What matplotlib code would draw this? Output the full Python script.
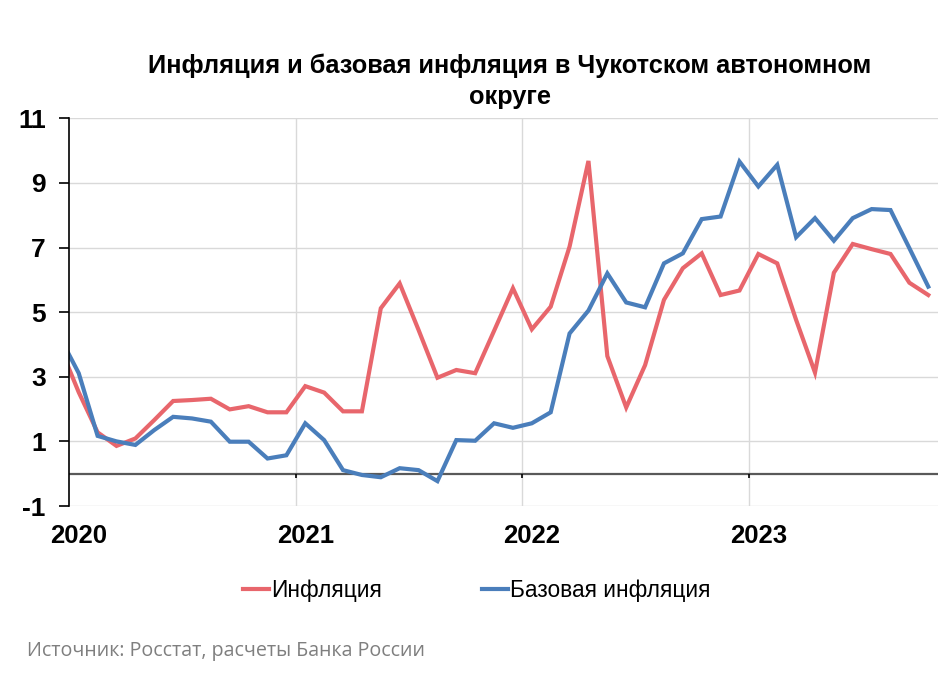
import numpy as np
import pandas as pd
import matplotlib
matplotlib.use("Agg")
import matplotlib.pyplot as plt

# monthly values, Dec 2019 .. Oct 2023 (Dec 2019 only feeds the clipped left edge)
start_month = "2019-12-01"
inflation = [
    3.94,
    2.52, 1.28, 0.86, 1.09, 1.66, 2.25, 2.28, 2.32, 1.99, 2.09, 1.90, 1.90,
    2.71, 2.51, 1.93, 1.93, 5.12, 5.89, 4.45, 2.97, 3.21, 3.11, 4.42, 5.74,
    4.47, 5.17, 7.03, 9.68, 3.64, 2.05, 3.36, 5.38, 6.36, 6.82, 5.53, 5.67,
    6.80, 6.51, 4.76, 3.13, 6.22, 7.11, 6.95, 6.80, 5.91, 5.53,
]
core_inflation = [
    4.23,
    3.11, 1.17, 1.00, 0.89, 1.35, 1.76, 1.71, 1.61, 0.99, 0.99, 0.47, 0.57,
    1.56, 1.04, 0.11, -0.04, -0.11, 0.17, 0.11, -0.23, 1.04, 1.02, 1.56, 1.42,
    1.56, 1.90, 4.34, 5.05, 6.20, 5.30, 5.15, 6.51, 6.82, 7.88, 7.96, 9.66,
    8.89, 9.56, 7.32, 7.91, 7.21, 7.91, 8.19, 8.16, 6.98, 5.79,
]
labels = ["Инфляция", "Базовая инфляция"]
years = ["2020", "2021", "2022", "2023"]
y_ticks = [-1, 1, 3, 5, 7, 9, 11]

dates = pd.date_range(start_month, periods=len(inflation), freq="MS")
# month index, Jan 2020 = 0
x = (dates.year - 2020) * 12 + (dates.month - 1)

red = "#E8666C"
blue = "#4A7EBB"

fig = plt.figure(figsize=(9.5, 6.75), dpi=100)
ax = fig.add_axes([69.3 / 950, 1 - 506 / 675, 868.4 / 950, 387.7 / 675])

ax.plot(x, inflation, color=red, lw=3, label=labels[0], solid_joinstyle="miter")
ax.plot(x, core_inflation, color=blue, lw=3, label=labels[1], solid_joinstyle="miter")

ax.set_xlim(-0.5, x[-1] + 0.5)
ax.set_ylim(-1, 11)

# horizontal grid
ax.set_yticks(y_ticks)
ax.set_yticklabels([str(v) for v in y_ticks])
ax.grid(axis="y", color="#D9D9D9", lw=1)
ax.set_axisbelow(True)

# year boundaries between Dec and Jan
bounds = [12 * i - 0.5 for i in range(1, len(years))]
for b in bounds:
    ax.axvline(b, color="#D9D9D9", lw=1, zorder=0)
ax.axhline(0, color="#595959", lw=1.6, zorder=1)
ax.vlines(bounds, -0.13, 0, color="black", lw=1.2, zorder=1)

ax.set_xticks([12 * i for i in range(len(years))])
ax.set_xticklabels(years)
ax.tick_params(axis="x", length=0, pad=13, labelsize=18.5)
ax.tick_params(axis="y", length=7, width=1.2, pad=10, labelsize=19, direction="out")
for lab in ax.get_xticklabels() + ax.get_yticklabels():
    lab.set_fontweight("bold")
    lab.set_fontfamily("Liberation Sans")

for s in ["top", "right", "bottom"]:
    ax.spines[s].set_visible(False)
ax.spines["left"].set_color("black")
ax.spines["left"].set_linewidth(1.2)

fig.text(510 / 950, 1 - 66 / 675, "Инфляция и базовая инфляция в Чукотском автономном",
         ha="center", va="center", fontsize=18.3, fontweight="bold", family="Liberation Sans")
fig.text(510 / 950, 1 - 97 / 675, "округе",
         ha="center", va="center", fontsize=18.3, fontweight="bold", family="Liberation Sans")

leg = fig.legend(loc="center", bbox_to_anchor=(477 / 950, 1 - 590 / 675), ncol=2,
                 frameon=False, handlelength=1.15, handletextpad=0.1, columnspacing=4.4,
                 prop={"family": "Liberation Sans", "size": 16.3})

fig.text(27 / 950, 1 - 651 / 675, "Источник: Росстат, расчеты Банка России",
         ha="left", va="center", fontsize=14.1, color="#7F7F7F", family="Open Sans")

fig.savefig("out.png", dpi=100)
